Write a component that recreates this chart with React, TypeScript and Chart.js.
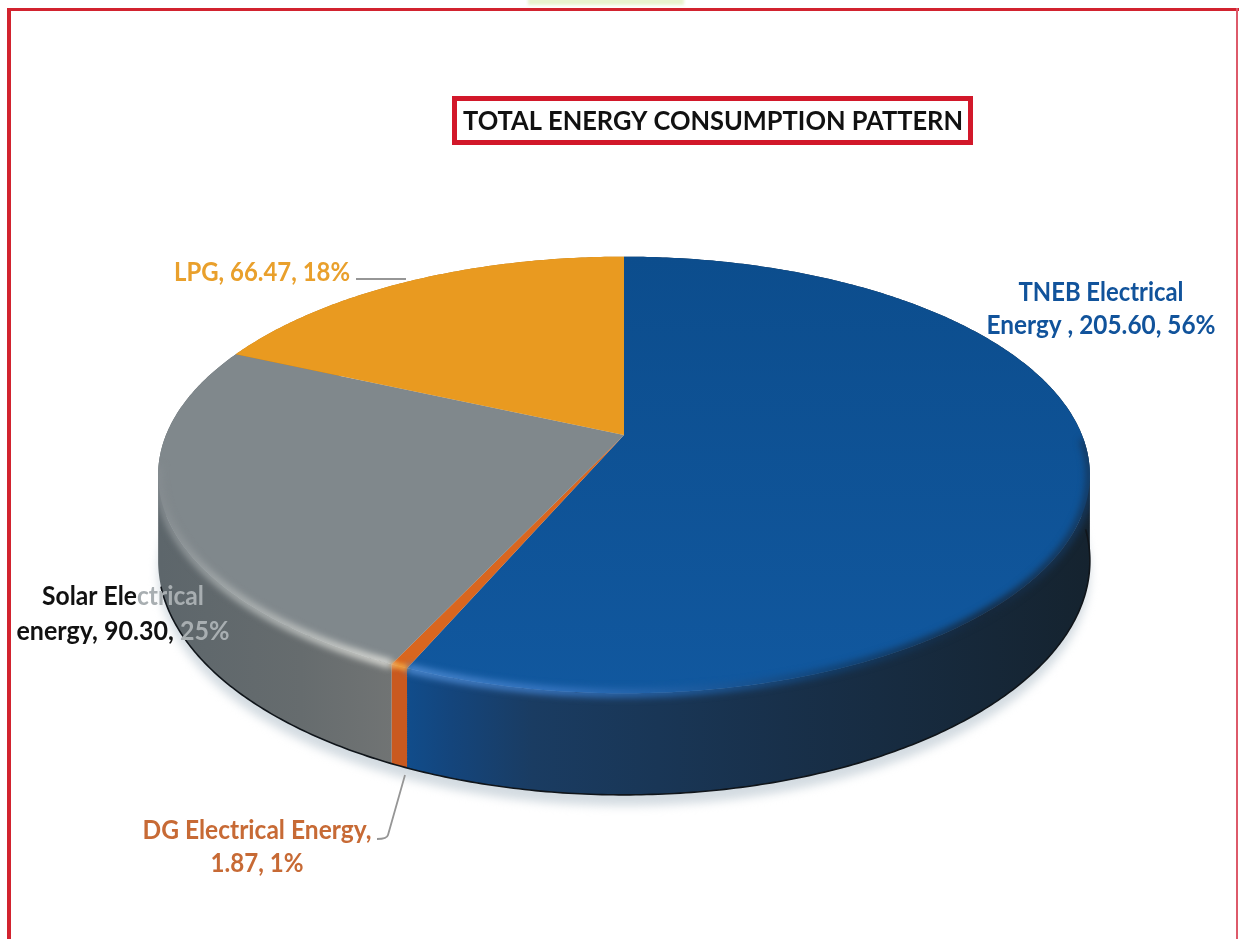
import React, { useEffect, useRef } from "react";
import { Chart, registerables } from "chart.js";

Chart.register(...registerables);

// Energy use by source
const categories = ["TNEB Electrical Energy ", "DG Electrical Energy", "Solar Electrical energy", "LPG"];
const values = [205.6, 1.87, 90.3, 66.47];
const firstLines = ["TNEB Electrical", "DG Electrical Energy,", "Solar Electrical", ""];
const titleText = "TOTAL ENERGY CONSUMPTION PATTERN";

// Slice colours
const topColors = ["#0f5297", "#d9661f", "#80888c", "#e99a20"];
const labelColors = ["#11539b", "#c76a35", "#111111", "#e9a02c"];

// Perspective disc geometry
const CX = 624;
const CY = 435;
const RX = 458;
const RY = 211;
const TILT = -0.183;
const DEPTH = 83;

const FONT = 'bold 27px Lato, "Open Sans", sans-serif';

type Pt = [number, number];

function project(angle: number): Pt {
  const den = 1 + TILT * Math.sin(angle);
  return [CX + (RX * Math.cos(angle)) / den, CY + (RY * Math.sin(angle)) / den];
}

function footOf(angle: number): Pt {
  const [x, y] = project(angle);
  return [x, y + DEPTH / (1 + TILT * Math.sin(angle))];
}

function sweep(from: number, to: number): number[] {
  const n = Math.max(2, Math.ceil(Math.abs(to - from) / 0.01));
  const out: number[] = [];
  for (let i = 0; i <= n; i++) out.push(from + ((to - from) * i) / n);
  return out;
}

function linearX(ctx: CanvasRenderingContext2D, x0: number, x1: number, stops: [number, string][]) {
  const g = ctx.createLinearGradient(x0, 0, x1, 0);
  stops.forEach(([p, c]) => g.addColorStop(p, c));
  return g;
}

function tracePoints(ctx: CanvasRenderingContext2D, pts: Pt[], move = true) {
  pts.forEach(([x, y], i) => (i === 0 && move ? ctx.moveTo(x, y) : ctx.lineTo(x, y)));
}

// Adds the wall between two angles as small quads of one winding, so the
// ribbon stays solid where it folds over at the disc's left and right extremes.
function traceWall(ctx: CanvasRenderingContext2D, from: number, to: number) {
  const run = sweep(from, to);
  for (let i = 0; i < run.length - 1; i++) {
    const quad: Pt[] = [project(run[i]), project(run[i + 1]), footOf(run[i + 1]), footOf(run[i])];
    let area = 0;
    quad.forEach(([x, y], k) => {
      const [nx, ny] = quad[(k + 1) % 4];
      area += x * ny - nx * y;
    });
    tracePoints(ctx, area < 0 ? quad.slice().reverse() : quad);
    ctx.closePath();
  }
}

const tiltedPie = {
  id: "tiltedPie",
  beforeDatasetsDraw(chart: any) {
    const ctx: CanvasRenderingContext2D = chart.ctx;
    const arcs = chart.getDatasetMeta(0).data as any[];
    const wholeTurn = sweep(0, Math.PI * 2);

    const wallFills = [
      linearX(ctx, 410, 1090, [[0, "#114c8a"], [0.06, "#14457c"], [0.18, "#1a3c62"], [0.55, "#18304a"], [1, "#15232f"]]),
      "#c9591f",
      linearX(ctx, 160, 395, [[0, "#5d666b"], [0.6, "#666c6e"], [1, "#717474"]]),
      "#b87a1a",
    ];
    const rimStrokes = [
      linearX(ctx, 410, 1090, [[0, "#4f8bd2"], [0.2, "#3a78c4"], [0.42, "#1f5c9f"], [0.62, "#12406f"], [0.85, "#16283c"], [1, "#15395f"]]),
      "#f0a040",
      linearX(ctx, 160, 395, [[0, "#858c90"], [0.25, "#a3a9aa"], [0.7, "#c6c9c6"], [1, "#e2e2dc"]]),
      "#e99a20",
    ];

    const blueFace = ctx.createLinearGradient(0, 257, 0, 700);
    blueFace.addColorStop(0, "#0c4d8d");
    blueFace.addColorStop(1, "#11589f");
    const faceFills = [blueFace, topColors[1], topColors[2], topColors[3]];

    ctx.save();

    // Soft shadow on the page under the disc
    ctx.save();
    ctx.filter = "blur(5px)";
    ctx.fillStyle = "#d3dbe1";
    ctx.beginPath();
    tracePoints(ctx, wholeTurn.map((a) => {
      const [x, y] = footOf(a);
      return [x, y + 11] as Pt;
    }));
    ctx.closePath();
    ctx.fill();
    ctx.restore();

    // Side wall of every slice
    arcs.forEach((arc, i) => {
      ctx.fillStyle = wallFills[i];
      ctx.beginPath();
      traceWall(ctx, arc.startAngle, arc.endAngle);
      ctx.fill();
    });

    // Dark line along the foot of the wall
    ctx.strokeStyle = "#10151a";
    ctx.lineWidth = 1.6;
    ctx.beginPath();
    tracePoints(ctx, sweep(0.05, 2.85).map(footOf));
    ctx.stroke();

    // Top face of every slice
    arcs.forEach((arc, i) => {
      ctx.fillStyle = faceFills[i];
      ctx.beginPath();
      ctx.moveTo(CX, CY);
      tracePoints(ctx, sweep(arc.startAngle, arc.endAngle).map(project), false);
      ctx.closePath();
      ctx.fill();
    });

    // Blurred bevel where the top face turns into the wall
    ctx.save();
    ctx.beginPath();
    tracePoints(ctx, wholeTurn.map(project));
    ctx.closePath();
    traceWall(ctx, -0.2, Math.PI + 0.2);
    ctx.clip();
    arcs.forEach((arc, i) => {
      const from = Math.max(arc.startAngle, 0.02);
      const to = Math.min(arc.endAngle, 3.0);
      if (to <= from) return;
      const run = sweep(from, to).map(project);
      ctx.filter = i === 1 ? "blur(2px)" : "blur(3.5px)";
      ctx.strokeStyle = rimStrokes[i];
      ctx.lineWidth = i === 1 ? 6 : 8;
      ctx.beginPath();
      tracePoints(ctx, run);
      ctx.stroke();
    });
    ctx.restore();

    ctx.restore();
    return false;
  },
  afterDraw(chart: any) {
    const ctx: CanvasRenderingContext2D = chart.ctx;
    const total = values.reduce((s, v) => s + v, 0);
    const lines = categories.map((name, i) => {
      const text = `${name}, ${values[i].toFixed(2)}, ${Math.round((values[i] / total) * 100)}%`;
      const head = firstLines[i];
      return head ? [head, text.slice(head.length).replace(/^,/, "").trim()] : [text];
    });

    ctx.save();

    // Page frame
    ctx.save();
    ctx.filter = "blur(1.5px)";
    ctx.fillStyle = "#e8f3cf";
    ctx.fillRect(528, -4, 156, 9);
    ctx.restore();
    ctx.fillStyle = "#d2232f";
    ctx.fillRect(7, 8, 1232, 3);
    ctx.fillRect(7, 8, 4, 931);
    ctx.fillStyle = "#dd5a6a";
    ctx.fillRect(1236, 8, 2, 931);

    // Boxed heading
    ctx.strokeStyle = "#d2182a";
    ctx.lineWidth = 5;
    ctx.strokeRect(454.5, 98.5, 516, 44);
    ctx.fillStyle = "#111111";
    ctx.font = FONT;
    ctx.textAlign = "center";
    ctx.textBaseline = "alphabetic";
    ctx.fillText(titleText, 713, 130, 500);

    // Leader lines
    ctx.strokeStyle = "#969696";
    ctx.lineWidth = 1.8;
    ctx.beginPath();
    ctx.moveTo(356, 279);
    ctx.lineTo(406, 279);
    ctx.moveTo(405, 775);
    ctx.lineTo(388, 835);
    ctx.quadraticCurveTo(387, 839, 377, 839);
    ctx.stroke();

    // Slice labels
    const placing = [
      { x: 1101, ys: [301, 334], widths: [165, 229] },
      { x: 257, ys: [839, 872], widths: [229, 93] },
      { x: 123, ys: [605, 640], widths: [162, 213] },
      { x: 262, ys: [281], widths: [176] },
    ];
    lines.forEach((parts, i) => {
      parts.forEach((line, j) => {
        const { x, ys, widths } = placing[i];
        if (i === 2) {
          // Solar label washes out where it runs over the disc
          const split = j === 0 ? 137 : 180;
          [
            { from: 0, to: split, color: labelColors[i] },
            { from: split, to: 300, color: "#a8aeb1" },
          ].forEach(({ from, to, color }) => {
            ctx.save();
            ctx.beginPath();
            ctx.rect(from, ys[j] - 30, to - from, 42);
            ctx.clip();
            ctx.fillStyle = color;
            ctx.fillText(line, x, ys[j], widths[j]);
            ctx.restore();
          });
        } else {
          ctx.fillStyle = labelColors[i];
          ctx.fillText(line, x, ys[j], widths[j]);
        }
      });
    });
    ctx.restore();
  },
};

export default function App() {
  const ref = useRef<HTMLCanvasElement>(null);
  useEffect(() => {
    const chart = new Chart(ref.current!, {
      type: "pie",
      data: {
        labels: categories,
        datasets: [{ data: values, backgroundColor: topColors, borderWidth: 0 }],
      },
      options: {
        animation: false,
        responsive: false,
        plugins: { legend: { display: false }, tooltip: { enabled: false } },
      },
      plugins: [tiltedPie],
    } as any);
    return () => chart.destroy();
  }, []);
  return (
    <div style={{ position: "absolute", left: 0, top: 0, width: 1239, height: 939, background: "#fff" }}>
      <canvas ref={ref} width={1239} height={939} style={{ display: "block" }} />
    </div>
  );
}
